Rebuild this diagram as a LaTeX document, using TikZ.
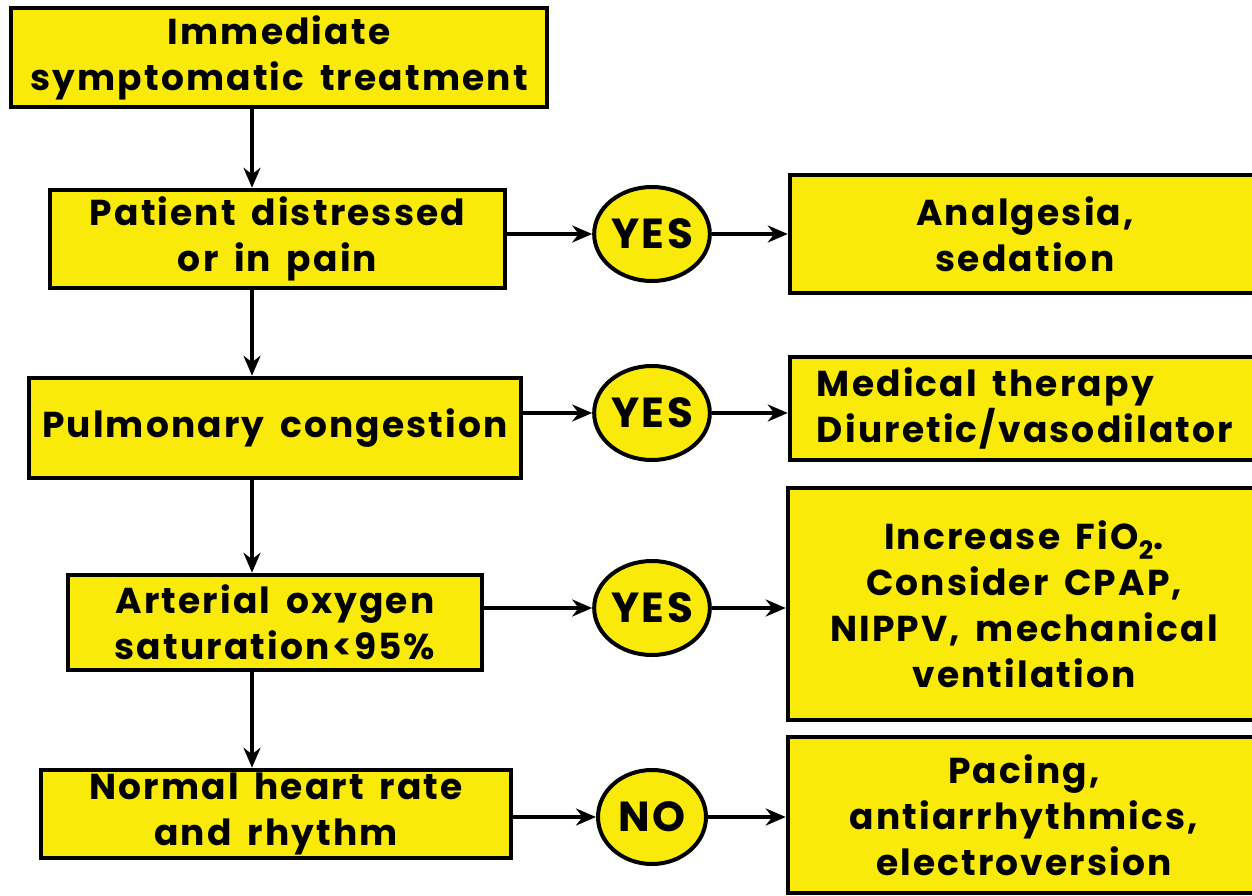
\documentclass[tikz,border=0pt]{standalone}
\usepackage{fontspec}
\setmainfont{Poppins}[LetterSpace=6,WordSpace=1.6]
\usetikzlibrary{arrows.meta,shapes.geometric}
\definecolor{boxyellow}{RGB}{250,234,10}
\tikzset{
  box/.style={draw=black, line width=4.5pt, fill=boxyellow, align=center, inner sep=0pt,
    font=\fontsize{36}{46}\selectfont\bfseries},
  yesno/.style={draw=black, line width=4pt, fill=boxyellow, ellipse, inner sep=0pt,
    minimum width=108pt, minimum height=94pt, font=\fontsize{42}{44}\selectfont\bfseries},
  arr/.style={draw=black, line width=3.5pt, -{Stealth[length=20pt,width=17pt]}}
}
\begin{document}
\begin{tikzpicture}[x=1pt,y=-1pt]
\useasboundingbox (0,0) rectangle (1252,896);
\fill[white] (0,0) rectangle (1252,896);
\begin{scope}
\clip (0,0) rectangle (1252,896);
% left column
\node[box, minimum width=536pt, minimum height=99pt] (b1) at (279,57.5) {Immediate\\symptomatic treatment};
\node[box, minimum width=455pt, minimum height=98pt] (b2) at (277.5,239) {Patient distressed\\or in pain};
\node[box, minimum width=492pt, minimum height=100pt] (b3) at (275,428) {Pulmonary congestion};
\node[box, minimum width=414pt, minimum height=95pt] (b4) at (275,622.5) {Arterial oxygen\\saturation<95\%};
\node[box, minimum width=470pt, minimum height=88pt] (b5) at (276,814) {Normal heart rate\\and rhythm};
% decisions
\node[yesno] (c1) at (652,234) {YES};
\node[yesno] (c2) at (652,413) {YES};
\node[yesno] (c3) at (652,608) {YES};
\node[yesno] (c4) at (652,817) {NO};
% right column
\node[box, minimum width=470pt, minimum height=118pt] (r1) at (1025,234) {Analgesia,\\sedation};
\node[box, minimum width=470pt, minimum height=103pt, align=left] (r2) at (1025,408.5) {Medical therapy\\Diuretic/vasodilator};
\node[box, minimum width=472pt, minimum height=232pt] (r3) at (1024,604) {Increase FiO\textsubscript{2}.\\Consider CPAP,\\NIPPV, mechanical\\ventilation};
\node[box, minimum width=472pt, minimum height=156pt] (r4) at (1024,815) {Pacing,\\antiarrhythmics,\\electroversion};
\end{scope}
\coordinate (spine) at (252,0);
% vertical connectors
\draw[arr] (b1.south -| spine) -- (b2.north -| spine);
\draw[arr] (b2.south -| spine) -- (b3.north -| spine);
\draw[arr] (b3.south -| spine) -- (b4.north -| spine);
\draw[arr] (b4.south -| spine) -- (b5.north -| spine);
% horizontal connectors
\draw[arr] (c1.west -| b2.east) -- (c1.west);
\draw[arr] (c2.west -| b3.east) -- (c2.west);
\draw[arr] (c3.west -| b4.east) -- (c3.west);
\draw[arr] (c4.west -| b5.east) -- (c4.west);
\draw[arr] (c1.east) -- (c1.east -| r1.west);
\draw[arr] (c2.east) -- (c2.east -| r2.west);
\draw[arr] (c3.east) -- (c3.east -| r3.west);
\draw[arr] (c4.east) -- (c4.east -| r4.west);
\end{tikzpicture}
\end{document}
